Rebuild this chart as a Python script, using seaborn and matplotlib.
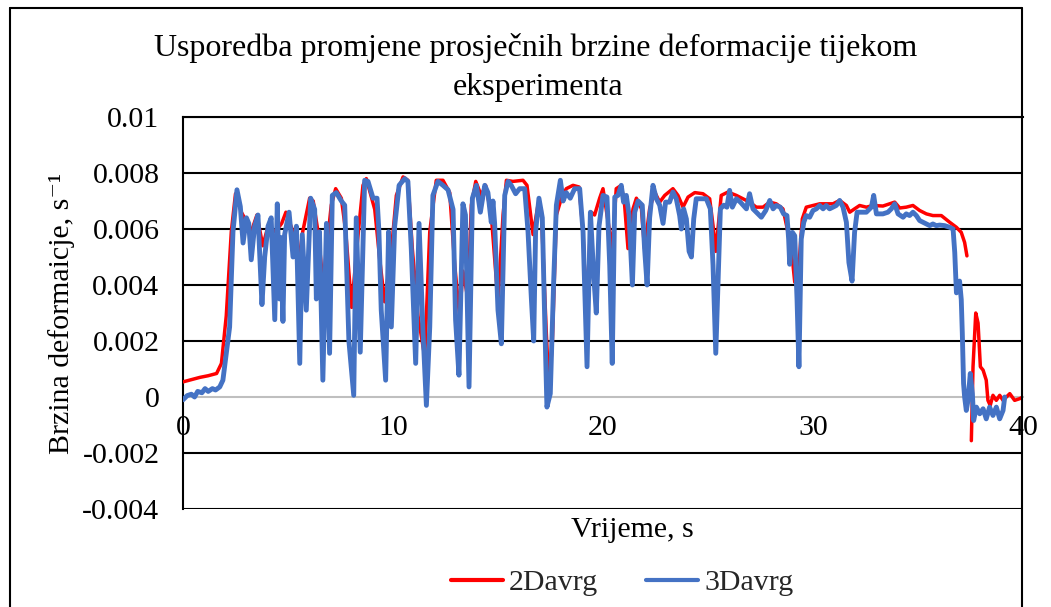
import numpy as np
import pandas as pd
import matplotlib
matplotlib.use("Agg")
import matplotlib.pyplot as plt
import seaborn as sns
from matplotlib.lines import Line2D

# ---- data (strain rate values in units of 0.001 s^-1) ----
t_3d = [0.0, 0.2, 0.4, 0.55, 0.7, 0.9, 1.05, 1.2, 1.4, 1.55, 1.75, 1.9, 2.05, 2.22, 2.38, 2.57, 2.73, 2.86,
        3.02, 3.13, 3.25, 3.41, 3.57, 3.76, 3.89, 4.05, 4.2, 4.37, 4.49, 4.6, 4.65, 4.76, 4.84, 5.05, 5.24,
        5.4, 5.56, 5.68, 5.87, 6.08, 6.27, 6.35, 6.5, 6.66, 6.83, 6.98, 7.11, 7.3, 7.54, 7.7, 7.9, 8.13,
        8.25, 8.44, 8.65, 8.81, 9.05, 9.24, 9.33, 9.44, 9.65, 9.79, 9.92, 10.08, 10.29, 10.56, 10.71,
        10.87, 11.08, 11.24, 11.43, 11.59, 11.75, 11.9, 12.14, 12.38, 12.62, 12.86, 12.98, 13.14, 13.33,
        13.45, 13.62, 13.78, 13.97, 14.16, 14.37, 14.52, 14.68, 14.76, 14.84, 15.0, 15.16, 15.32, 15.48,
        15.63, 15.84, 16.03, 16.27, 16.43, 16.59, 16.7, 16.79, 16.95, 17.11, 17.22, 17.33, 17.49, 17.65,
        17.78, 17.97, 18.1, 18.25, 18.44, 18.65, 18.89, 19.05, 19.24, 19.4, 19.56, 19.68, 19.81, 20.0,
        20.19, 20.32, 20.44, 20.56, 20.71, 20.87, 20.98, 21.11, 21.24, 21.4, 21.51, 21.67, 21.87, 21.98,
        22.1, 22.22, 22.38, 22.54, 22.7, 22.86, 22.98, 23.17, 23.33, 23.49, 23.65, 23.73, 23.84, 23.97,
        24.1, 24.21, 24.32, 24.44, 24.68, 24.92, 25.11, 25.24, 25.37, 25.48, 25.59, 25.75, 25.9, 26.03,
        26.16, 26.35, 26.54, 26.67, 26.83, 26.98, 27.14, 27.38, 27.54, 27.75, 27.94, 28.1, 28.25, 28.44,
        28.6, 28.76, 28.84, 28.89, 29.02, 29.13, 29.24, 29.33, 29.44, 29.56, 29.68, 29.84, 30.0, 30.16,
        30.32, 30.48, 30.63, 30.79, 30.95, 31.11, 31.27, 31.43, 31.59, 31.71, 31.86, 31.98, 32.1, 32.3,
        32.54, 32.78, 32.89, 33.02, 33.33, 33.57, 33.73, 33.89, 34.05, 34.29, 34.44, 34.6, 34.76, 34.92,
        35.08, 35.24, 35.4, 35.56, 35.71, 35.87, 36.03, 36.27, 36.51, 36.67, 36.75, 36.83, 36.9, 36.98,
        37.06, 37.11, 37.17, 37.22, 37.3, 37.38, 37.49, 37.59, 37.65, 37.78, 37.94, 38.1, 38.25, 38.41,
        38.57, 38.73, 38.89, 39.05, 39.13]
v_3d = [-0.1, 0.05, 0.1, 0.0, 0.2, 0.15, 0.3, 0.2, 0.3, 0.25, 0.36, 0.6, 1.5, 2.5, 5.9, 7.4, 6.8, 5.5,
        6.4, 6.2, 4.9, 6.1, 6.5, 3.3, 5.0, 6.1, 6.4, 2.76, 6.9, 3.5, 5.7, 2.7, 5.8, 6.6, 5.0,
        6.1, 1.2, 5.8, 3.1, 7.1, 6.7, 3.5, 5.9, 0.6, 6.2, 1.56, 7.2, 7.3, 7.0, 6.85, 2.0, 0.06,
        6.4, 1.6, 7.74, 7.7, 7.1, 7.1, 5.9, 3.1, 0.6, 5.9, 2.5, 6.1, 7.56, 7.8, 7.7,
        5.3, 1.2, 6.2, 2.3, -0.3, 2.5, 7.2, 7.7, 7.56, 7.4, 6.7, 2.76, 0.78, 6.9,
        6.5, 0.36, 7.1, 7.56, 6.6, 7.56, 7.3, 6.24, 7.0, 6.2, 3.1, 1.9, 7.2, 7.7,
        7.56, 7.26, 7.44, 7.44, 5.9, 3.5, 2.0, 5.9, 7.1, 6.4, 2.9, -0.36, 0.12, 4.1,
        6.85, 7.74, 7.0, 7.3, 7.1, 7.44, 7.44, 5.9, 1.08, 6.6, 4.3, 3.0, 6.1, 7.2,
        7.14, 4.7, 1.2, 7.14, 7.2, 7.56, 6.96, 7.2, 6.5, 4.0, 6.6, 7.0, 6.85, 5.3,
        4.0, 6.4, 7.56, 7.08, 6.85, 6.2, 6.96, 6.96, 7.32, 7.08, 6.48, 6.0, 6.72, 6.36,
        5.2, 5.0, 6.36, 7.08, 7.08, 7.08, 6.72, 4.7, 1.56, 4.1, 6.72, 6.85, 6.78, 7.38,
        6.78, 7.08, 6.96, 6.85, 6.72, 7.26, 6.72, 6.54, 6.42, 6.66, 7.02, 6.72, 6.84, 6.78,
        6.54, 6.48, 5.64, 4.74, 5.88, 5.76, 3.48, 1.08, 5.64, 6.24, 6.48, 6.42, 6.66, 6.72,
        6.84, 6.72, 6.84, 6.72, 6.78, 6.84, 7.02, 6.78, 6.24, 4.8, 4.14, 5.88, 6.6, 6.6,
        6.6, 6.78, 7.2, 6.54, 6.54, 6.6, 6.72, 6.9, 6.54, 6.42, 6.54, 6.48, 6.6, 6.48,
        6.3, 6.24, 6.18, 6.12, 6.18, 6.12, 6.14, 6.12, 6.06, 6.0, 5.16, 3.72, 3.84, 4.14,
        3.48, 2.28, 0.48, 0.0, -0.48, -0.12, 0.84, 0.12, -0.84, -0.36, -0.6, -0.42, -0.78, -0.36,
        -0.66, -0.36, -0.78, -0.48, 0.0]

t_2d = [0.0, 0.4, 0.8, 1.2, 1.6, 1.83, 2.06, 2.3, 2.5, 2.78, 3.0, 3.25, 3.52, 3.8, 4.05, 4.4, 4.7, 4.9,
        5.24, 5.47, 5.7, 6.03, 6.2, 6.43, 6.67, 7.06, 7.27, 7.54, 7.75, 8.03, 8.3, 8.57, 8.73, 9.13, 9.37,
        9.6, 9.92, 10.16, 10.48, 10.71, 10.92, 11.19, 11.51, 11.75, 12.06, 12.38, 12.7, 12.94, 13.17,
        13.33, 13.57, 13.73, 13.94, 14.2, 14.41, 14.68, 15.0, 15.24, 15.4, 15.71, 16.19, 16.38, 16.67,
        16.9, 17.06, 17.3, 17.43, 17.59, 17.78, 18.02, 18.25, 18.57, 18.86, 19.05, 19.2, 19.44, 19.6,
        19.84, 20.0, 20.32, 20.44, 20.63, 20.87, 21.03, 21.19, 21.43, 21.59, 21.83, 21.98, 22.22, 22.46,
        22.7, 22.94, 23.33, 23.57, 23.81, 24.05, 24.37, 24.76, 25.08, 25.24, 25.37, 25.63, 25.95, 26.35,
        26.67, 26.98, 27.3, 27.62, 27.94, 28.25, 28.57, 28.81, 29.05, 29.13, 29.33, 29.49, 29.68, 30.0,
        30.32, 30.63, 30.95, 31.27, 31.59, 31.75, 31.98, 32.22, 32.54, 32.86, 33.33, 33.65, 33.89, 34.13,
        34.44, 34.76, 35.08, 35.4, 35.71, 36.11, 36.51, 36.83, 37.06, 37.22, 37.33]
v_2d = [0.54, 0.62, 0.7, 0.76, 0.84, 1.2, 2.9, 5.9, 7.26, 6.6, 6.3, 5.9, 6.5, 5.4, 6.1, 5.9, 6.2, 6.6,
        5.9, 4.6, 5.9, 7.1, 7.0, 5.9, 4.07, 6.85, 7.44, 7.1, 5.9, 3.2, 5.5, 7.56, 7.8, 6.7, 4.9,
        3.4, 5.2, 7.2, 7.86, 7.74, 5.3, 2.9, 1.44, 5.9, 7.74, 7.74, 7.3, 4.7, 2.9,
        4.5, 3.5, 6.85, 7.7, 7.2, 7.56, 6.5, 3.4, 6.5, 7.74, 7.7, 7.74, 7.56, 5.8,
        6.85, 6.72, 2.3, 0.24, 2.0, 6.5, 7.1, 7.44, 7.56, 7.5, 5.9, 2.9, 6.6, 6.5,
        7.1, 7.44, 5.9, 5.3, 7.44, 7.56, 6.85, 5.3, 6.72, 7.1, 6.72, 5.3, 6.72, 7.32,
        6.96, 7.2, 7.44, 7.2, 6.78, 7.14, 7.3, 7.26, 7.08, 6.12, 5.2, 7.2, 7.32, 7.2,
        7.08, 6.96, 6.78, 6.78, 6.96, 6.9, 6.72, 5.88, 4.7, 4.1, 4.7, 6.36, 6.78, 6.84,
        6.9, 6.9, 6.9, 7.02, 6.84, 6.6, 6.72, 6.84, 6.78, 6.84, 6.82, 6.9, 6.96, 6.75,
        6.78, 6.84, 6.66, 6.54, 6.48, 6.48, 6.24, 6.06, 5.88, 5.52, 5.04]
t_2d_tail = [37.54, 37.62, 37.75, 37.86, 37.97, 38.1, 38.25, 38.33, 38.44, 38.57, 38.73, 38.89, 39.05,
             39.21, 39.37, 39.6, 39.84, 40.0]
v_2d_tail = [-1.56, 1.08, 3.0, 2.64, 1.08, 0.96, 0.6, -0.12, -0.3, 0.06, -0.12, 0.06, -0.12,
             0.0, 0.12, -0.12, -0.06, 0.0]

series_names = ["2Davrg", "3Davrg"]
x_ticks = [0, 10, 20, 30, 40]
y_ticks = [-0.004, -0.002, 0, 0.002, 0.004, 0.006, 0.008, 0.01]
y_tick_labels = ["-0.004", "-0.002", "0", "0.002", "0.004", "0.006", "0.008", "0.01"]
title_lines = ["Usporedba promjene prosječnih brzine deformacije tijekom", "eksperimenta"]
x_label = "Vrijeme, s"
y_label = "Brzina deformaicje, s\u207b\u00b9"

RED = "#FF0000"
BLUE = "#4472C4"

sns.set_theme(style="white")
plt.rcParams["font.family"] = ["Liberation Serif", "DejaVu Serif"]

W, H = 1051, 607
fig = plt.figure(figsize=(W / 100, H / 100), dpi=100)
fig.patch.set_facecolor("white")
ax = fig.add_axes([183 / W, 1 - 509 / H, 840 / W, 392 / H])

df3 = pd.DataFrame({"t": t_3d, "v": np.array(v_3d) / 1000})
df2 = pd.DataFrame({"t": t_2d, "v": np.array(v_2d) / 1000})
df2b = pd.DataFrame({"t": t_2d_tail, "v": np.array(v_2d_tail) / 1000})

sns.lineplot(data=df2, x="t", y="v", ax=ax, color=RED, lw=2.5, sort=False, estimator=None, zorder=3)
sns.lineplot(data=df2b, x="t", y="v", ax=ax, color=RED, lw=2.5, sort=False, estimator=None, zorder=3)
sns.lineplot(data=df3, x="t", y="v", ax=ax, color=BLUE, lw=3.5, sort=False, estimator=None, zorder=4)

ax.set_xlim(0, 40)
ax.set_ylim(-0.004, 0.01)
ax.set_xticks(x_ticks)
ax.set_xticklabels([str(x) for x in x_ticks])
ax.set_yticks(y_ticks)
ax.set_yticklabels(y_tick_labels)
ax.set_xlabel("")
ax.set_ylabel("")

ax.grid(axis="y", color="black", lw=1.5)
ax.grid(axis="x", visible=False)
ax.set_axisbelow(True)
for val, gl in zip(y_ticks, ax.get_ygridlines()):
    if val == 0:
        gl.set_visible(False)

for s in ["left", "top"]:
    ax.spines[s].set_visible(True)
    ax.spines[s].set_color("black")
    ax.spines[s].set_linewidth(1.5)
ax.spines["right"].set_visible(False)
ax.spines["bottom"].set_position(("data", 0))
ax.spines["bottom"].set_color("#bfbfbf")
ax.spines["bottom"].set_linewidth(1.5)
ax.spines["bottom"].set_zorder(2)

ax.tick_params(axis="x", length=0, pad=13, labelsize=21.5, colors="black")
ax.tick_params(axis="y", length=0, pad=17, labelsize=21.5, colors="black")

fig.text(536 / W, 1 - 48 / H, title_lines[0], ha="center", va="center", fontsize=23, color="black")
fig.text(538 / W, 1 - 87 / H, title_lines[1], ha="center", va="center", fontsize=23, color="black")
fig.text(632 / W, 1 - 530 / H, x_label, ha="center", va="center", fontsize=21.5, color="black")
fig.text(62 / W, 1 - 313 / H, y_label, ha="center", va="center", rotation=90, fontsize=21.5,
         color="black")

handles = [Line2D([], [], color=RED, lw=3), Line2D([], [], color=BLUE, lw=3)]
fig.legend(handles, series_names, loc="center", bbox_to_anchor=(622 / W, 1 - 583 / H), ncol=2,
           frameon=False, fontsize=21.5, handlelength=1.75, handletextpad=0.2, columnspacing=1.6)

# chart frame
fig.add_artist(Line2D([10 / W, 10 / W], [0, 1 - 8 / H], transform=fig.transFigure, color="black", lw=1.5))
fig.add_artist(Line2D([1022 / W, 1022 / W], [0, 1 - 8 / H], transform=fig.transFigure, color="black", lw=1.5))
fig.add_artist(Line2D([10 / W, 1022 / W], [1 - 8 / H, 1 - 8 / H], transform=fig.transFigure, color="black", lw=1.5))

fig.savefig("out.png", dpi=100)
